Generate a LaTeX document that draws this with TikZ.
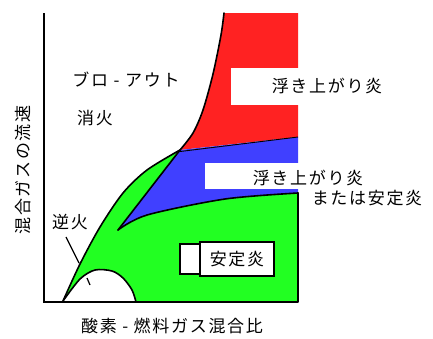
\documentclass[tikz,border=0pt]{standalone}
\usepackage{fontspec}
\newfontfamily\jp[LetterSpace=10]{Noto Sans CJK JP}
\definecolor{fred}{RGB}{255,34,34}
\definecolor{fblue}{RGB}{64,64,255}
\definecolor{fgreen}{RGB}{34,255,34}
\begin{document}
\begin{tikzpicture}[x=1pt,y=-1pt,
  lbl/.style={font=\jp\fontsize{17}{19}\selectfont, inner sep=0pt, anchor=center},
  edge/.style={line width=1.6pt, line join=round, line cap=round},
  thinedge/.style={line width=0.9pt},
  cutout/.style={fill=white, draw=none},
  boxed/.style={fill=white, draw=black, line width=1.4pt}]
\useasboundingbox (0,0) rectangle (433,338);
% regions
\fill[fred] (224,13) -- (298,13) -- (298,137) -- (180,150)
  -- plot[smooth] coordinates {(180,150) (193,133) (203,110) (213,74) (221,35) (224,13)} -- cycle;
\fill[fblue] (180,150) -- (298,137) -- (298,193)
  -- plot[smooth] coordinates {(298,193) (225,199) (147,215) (118,230)} -- cycle;
\fill[fgreen] plot[smooth] coordinates {(63,301) (80,264) (100,227) (123,193) (147,170) (180,150)}
  -- (118,230) -- plot[smooth] coordinates {(118,230) (147,215) (225,199) (298,193)}
  -- (298,302) -- (136,302)
  -- plot[smooth] coordinates {(136,302) (132,290) (123,278) (112,271) (95,270) (80,279) (63,301)} -- cycle;
% white cut-outs
\fill[cutout] (231,68) rectangle (299,105);
\fill[cutout] (205,163) rectangle (299,189);
% boundaries
\draw[edge] plot[smooth] coordinates {(63,301) (80,264) (100,227) (123,193) (147,170) (180,150)};
\draw[edge] plot[smooth] coordinates {(180,150) (193,133) (203,110) (213,74) (221,35) (224,13)};
\draw[thinedge] (176,152) -- (298,137);
\draw[edge] (180,150) -- (118,230);
\draw[edge] plot[smooth] coordinates {(118,230) (147,215) (225,199) (298,193)};
\draw[edge] (298,193) -- (298,302);
\draw[edge] plot[smooth] coordinates {(136,302) (132,290) (123,278) (112,271) (95,270) (80,279) (63,301)};
% axes
\coordinate (top) at (44,13);
\coordinate (origin) at (44,302);
\coordinate (xend) at (298,302);
\draw[line width=1.5pt] (top) -- (origin) -- (xend);
% stable flame box
\draw[boxed] (180,244) rectangle (200,274);
\draw[boxed] (200,242) rectangle (274,276);
% labels
\node[lbl] (blowout) at (126,80) {ブロ - アウト};
\node[lbl] (extinct) at (95,118) {消火};
\node[lbl] (lift1) at (327,86) {浮き上がり炎};
\node[lbl] (lift2) at (308,178) {浮き上がり炎};
\node[lbl] (orstable) at (367,198) {または安定炎};
\node[lbl] (stable) at (237,259) {安定炎};
\node[lbl] (flashback) at (70,222) {逆火};
\node[lbl] (xlabel) at (172,326) {酸素 - 燃料ガス混合比};
\node[lbl, rotate=90] (ylabel) at (23,170) {混合ガスの流速};
% leader for flashback
\coordinate (fa) at (66,237);
\coordinate (fb) at (79,263);
\coordinate (fc) at (87,278);
\coordinate (fd) at (90,285);
\draw[line width=1.2pt] (fa) -- (fb);
\draw[line width=1.2pt] (fc) -- (fd);
\end{tikzpicture}
\end{document}
